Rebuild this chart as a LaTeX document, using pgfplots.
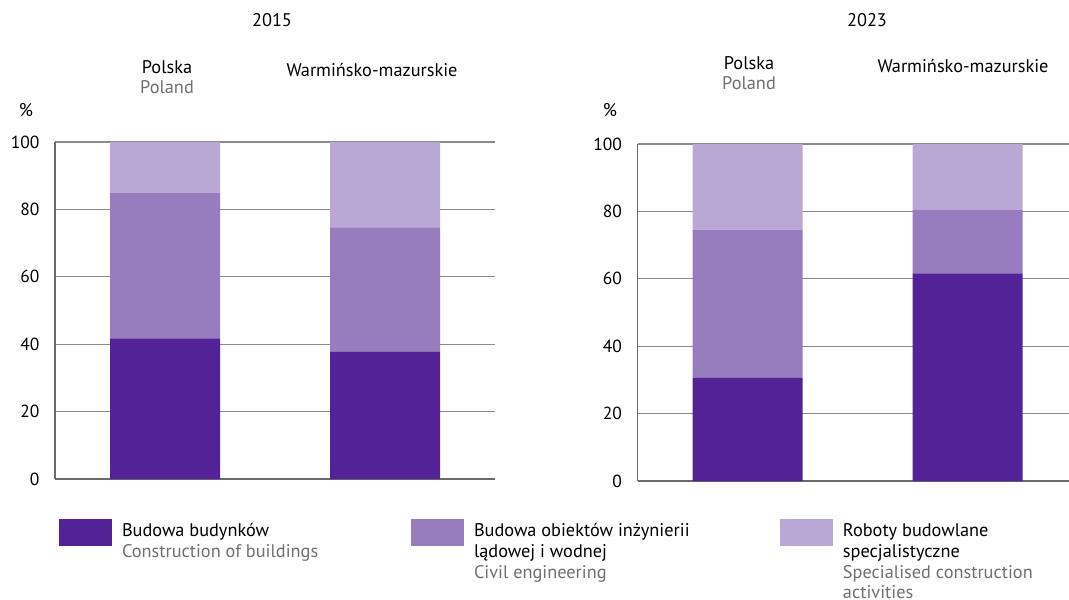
\documentclass[border=0pt]{standalone}
\usepackage{pgfplots}
\pgfplotsset{compat=1.18}
\usepackage{fontspec}
\setmainfont{PT Sans}

\definecolor{c1}{HTML}{522296}
\definecolor{c2}{HTML}{977CBE}
\definecolor{c3}{HTML}{B9A8D4}
\definecolor{en}{HTML}{6F6F6F}
\definecolor{gridc}{HTML}{8A8A8A}
\definecolor{axl}{HTML}{6A6A6A}

\newcommand{\fs}{\fontsize{18.3}{21}\selectfont}
\newcommand{\fl}{\fontsize{18.3}{20.8}\selectfont}
\newcommand{\ft}{\fontsize{17.5}{21}\selectfont}

\pgfplotsset{
  panel/.style={
    ybar stacked, bar width=0.5,
    scale only axis, width=440pt, height=337pt,
    xmin=-0.5, xmax=1.5, ymin=0, ymax=100,
    xtick=\empty, ytick={0,20,...,100},
    ymajorgrids, major grid style={gridc, line width=1.3pt},
    axis x line*=bottom, axis y line*=left,
    axis line style={axl, line width=1.3pt},
    major tick length=0pt,
    yticklabel style={font=\ft, /pgf/number format/assume math mode=true, xshift=-12pt},
    every axis plot post/.append style={draw=none,
      legend image code/.code={\fill[##1] (0pt,-10pt) rectangle (53pt,17pt);}},
  }
}

\begin{document}
\begin{tikzpicture}
\useasboundingbox (0,0) rectangle (1069pt,-600pt);

% 2015
\begin{axis}[panel, at={(55pt,-479pt)}, anchor=south west,
    legend columns=3,
    legend style={at={(axis description cs:0.0091,-0.1200)}, anchor=north west,
      draw=none, fill=none, inner sep=0pt, outer sep=0pt,
      column sep=0pt, row sep=0pt,
      nodes={inner sep=0pt, outer sep=0pt, font=\fl, anchor=base west}},
  ]
  \addplot[fill=c1] coordinates {(0,41.7) (1,37.7)};
  \addplot[fill=c2] coordinates {(0,43.3) (1,37.0)};
  \addplot[fill=c3] coordinates {(0,15.0) (1,25.3)};
  \addlegendentry{\hspace*{10pt}\parbox[t]{289pt}{\raggedright Budowa budynków\\\textcolor{en}{Construction of buildings}}}
  \addlegendentry{\hspace*{10pt}\parbox[t]{306pt}{\raggedright Budowa obiektów inżynierii\\lądowej i wodnej\\\textcolor{en}{Civil engineering}}}
  \addlegendentry{\hspace*{10pt}\parbox[t]{215pt}{\raggedright Roboty budowlane\\specjalistyczne\\\textcolor{en}{Specialised construction\\activities}}}
\end{axis}

% 2023
\begin{axis}[panel, at={(637.5pt,-481pt)}, anchor=south west]
  \addplot[fill=c1] coordinates {(0,30.6) (1,61.6)};
  \addplot[fill=c2] coordinates {(0,44.0) (1,18.8)};
  \addplot[fill=c3] coordinates {(0,25.4) (1,19.6)};
\end{axis}

\begin{scope}[every node/.style={font=\fs, inner sep=0pt}]
  \node at (272pt,-20pt) {2015};
  \node at (167pt,-66.7pt) {Polska};
  \node[text=en] at (167pt,-87.3pt) {Poland};
  \node at (372pt,-70pt) {Warmińsko-mazurskie};
  \node at (26pt,-110pt) {\%};

  \node at (867pt,-20pt) {2023};
  \node at (749pt,-63pt) {Polska};
  \node[text=en] at (749pt,-83pt) {Poland};
  \node at (963pt,-66pt) {Warmińsko-mazurskie};
  \node at (610pt,-110pt) {\%};
\end{scope}
\end{tikzpicture}
\end{document}
